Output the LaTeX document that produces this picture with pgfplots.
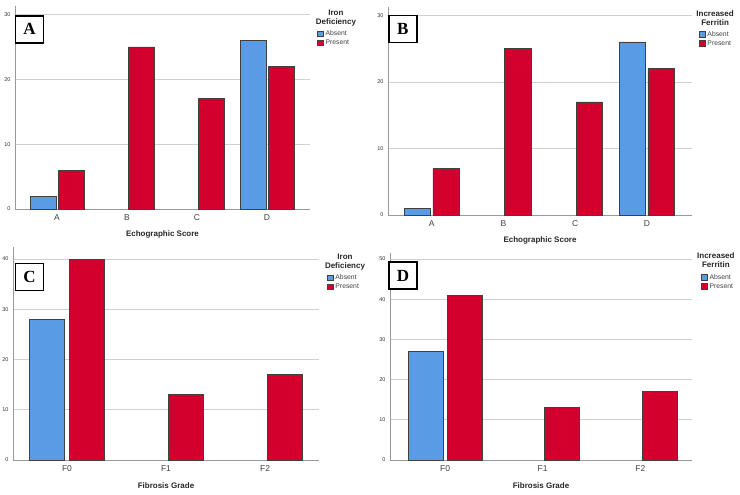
\documentclass[border=0pt]{standalone}
\usepackage{pgfplots}
\pgfplotsset{compat=1.18}
\usepackage{fontspec}
\setmainfont{Liberation Sans}
\newfontfamily\serifb{Liberation Serif}
\definecolor{absblue}{HTML}{5A9BE6}
\definecolor{presred}{HTML}{D3002E}
\definecolor{bord}{HTML}{404040}
\pgfplotsset{
  panel/.style={
    scale only axis, clip=false,
    axis lines*=left,
    axis line style={draw=black!40, line width=0.9pt},
    ymajorgrids, grid style={draw=black!18, line width=0.7pt},
    ymin=0, ybar,
    major tick length=0pt,
    /pgf/number format/assume math mode=true,
    yticklabel style={font=\fontsize{5.5}{6}\selectfont, text=black!80, xshift=-1pt},
    xticklabel style={font=\fontsize{8.5}{9}\selectfont, text=black!75, yshift=-2pt},
    xlabel style={font=\bfseries\fontsize{8}{9}\selectfont, text=black!85, anchor=center},
    legend style={draw=none, fill=none, anchor=north west, inner sep=0pt,
      font=\fontsize{6.8}{7.5}\selectfont, text=black!75, row sep=0pt, column sep=1.2pt,
      nodes={inner sep=0.9pt, text height=5.4pt, text depth=1.8pt}},
    legend cell align=left,
  },
  absent/.style={fill=absblue, draw=bord, line width=0.6pt, bar shift=-0.2,
    legend image code/.code={\draw[fill=absblue, draw=bord, line width=0.4pt] (0pt,-2.8pt) rectangle (5.8pt,2.8pt);}},
  present/.style={fill=presred, draw=bord, line width=0.6pt, bar shift=0.2,
    legend image code/.code={\draw[fill=presred, draw=bord, line width=0.4pt] (0pt,-2.8pt) rectangle (5.8pt,2.8pt);}},
}
\tikzset{
  lettbox/.style={draw=black, line width=1.6pt, fill=white, minimum width=28pt, minimum height=27pt,
    inner sep=0pt, font=\serifb\bfseries\fontsize{17}{17}\selectfont},
  legtitle/.style={font=\bfseries\fontsize{8}{9}\selectfont, text=black!85, align=center, anchor=north, inner sep=0pt},
}
\begin{document}
\begin{tikzpicture}
\path[use as bounding box] (0pt,0pt) rectangle (740pt,495pt);

% Panel A
\begin{axis}[panel, at={(15pt,286pt)}, anchor=south west, width=295pt, height=203pt,
  ymax=31.3, ytick={0,10,20,30}, xmin=-0.6, xmax=3.614,
  xtick={0,1,2,3}, xticklabels={A,B,C,D}, bar width=0.37,
  xlabel={Echographic Score}, xlabel style={at={(axis description cs:0.5,-0.123)}},
  legend style={at={(axis description cs:1.024,0.887)}}]
\addplot[absent] coordinates {(0,2) (3,26)};
\addplot[present] coordinates {(0,6) (1,25) (2,17) (3,22)};
\legend{Absent,Present}
\node[legtitle] at (axis description cs:1.088,0.98) {Iron\\Deficiency};
\node[lettbox] at (axis description cs:0.049,0.885) {A};
\end{axis}

% Panel B
\begin{axis}[panel, at={(388pt,280pt)}, anchor=south west, width=304pt, height=208.3pt,
  ymax=31.3, ytick={0,10,20,30}, xmin=-0.61, xmax=3.63,
  xtick={0,1,2,3}, xticklabels={A,B,C,D}, bar width=0.37,
  xlabel={Echographic Score}, xlabel style={at={(axis description cs:0.5,-0.12)}},
  legend style={at={(axis description cs:1.023,0.89)}}]
\addplot[absent] coordinates {(0,1) (3,26)};
\addplot[present] coordinates {(0,7) (1,25) (2,17) (3,22)};
\legend{Absent,Present}
\node[legtitle] at (axis description cs:1.076,0.98) {Increased\\Ferritin};
\node[lettbox] at (axis description cs:0.049,0.893) {B};
\end{axis}

% Panel C
\begin{axis}[panel, at={(13pt,35pt)}, anchor=south west, width=306pt, height=213pt,
  ymax=42.4, ytick={0,10,20,30,40}, xmin=-0.545, xmax=2.545,
  xtick={0,1,2}, xticklabels={F0,F1,F2}, bar width=0.355,
  xlabel={Fibrosis Grade}, xlabel style={at={(axis description cs:0.5,-0.122)}},
  legend style={at={(axis description cs:1.026,0.878)}}]
\addplot[absent] coordinates {(0,28)};
\addplot[present] coordinates {(0,40) (1,13) (2,17)};
\legend{Absent,Present}
\node[legtitle] at (axis description cs:1.085,0.97) {Iron\\Deficiency};
\node[lettbox] at (axis description cs:0.054,0.859) {C};
\end{axis}

% Panel D
\begin{axis}[panel, at={(390pt,35pt)}, anchor=south west, width=302pt, height=207pt,
  ymax=51.5, ytick={0,10,20,30,40,50}, xmin=-0.564, xmax=2.53,
  xtick={0,1,2}, xticklabels={F0,F1,F2}, bar width=0.36,
  xlabel={Fibrosis Grade}, xlabel style={at={(axis description cs:0.5,-0.126)}},
  legend style={at={(axis description cs:1.03,0.905)}}]
\addplot[absent] coordinates {(0,27)};
\addplot[present] coordinates {(0,41) (1,13) (2,17)};
\legend{Absent,Present}
\node[legtitle] at (axis description cs:1.079,1.0) {Increased\\Ferritin};
\node[lettbox] at (axis description cs:0.043,0.891) {D};
\end{axis}
\end{tikzpicture}
\end{document}
